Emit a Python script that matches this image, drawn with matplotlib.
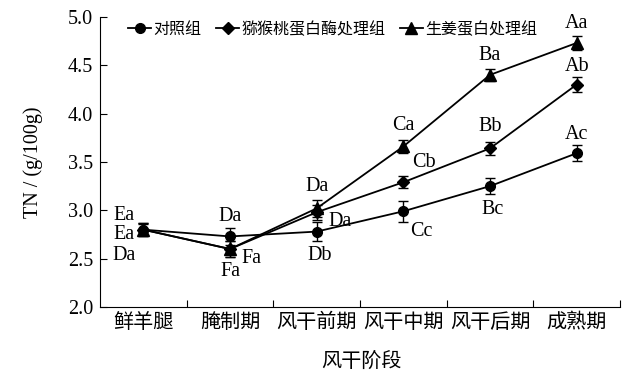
import numpy as np
import matplotlib.pyplot as plt

plt.rcParams['font.family'] = ['Liberation Serif', 'Noto Sans CJK SC']

stages = ['鲜羊腿', '腌制期', '风干前期', '风干中期', '风干后期', '成熟期']
groups = ['对照组', '猕猴桃蛋白酶处理组', '生姜蛋白处理组']

control = [2.80, 2.73, 2.78, 2.99, 3.25, 3.59]
kiwi = [2.80, 2.60, 2.98, 3.29, 3.64, 4.30]
ginger = [2.80, 2.60, 3.02, 3.66, 4.40, 4.73]

control_err = [0.07, 0.09, 0.10, 0.11, 0.08, 0.08]
kiwi_err = [0.06, 0.08, 0.08, 0.06, 0.07, 0.08]
ginger_err = [0.07, 0.08, 0.09, 0.07, 0.06, 0.07]

control_lbl = ['Da', 'Da', 'Db', 'Cc', 'Bc', 'Ac']
kiwi_lbl = ['Ea', 'Fa', 'Da', 'Cb', 'Bb', 'Ab']
ginger_lbl = ['Ea', 'Fa', 'Da', 'Ca', 'Ba', 'Aa']

# label offsets in pixels (dx, dy), one per stage
control_off = [(-19, -26), (0, 20), (3, -24), (18, -20), (3, -23), (0, 19)]
kiwi_off = [(-19, -5), (21, -9), (23, -9), (21, 20), (0, 22), (0, 18)]
ginger_off = [(-19, 14), (0, -22), (0, 22), (0, 21), (0, 19), (0, 19)]

fig = plt.figure(figsize=(6.25, 3.74), dpi=100)
ax = fig.add_axes([0.16, 0.179, 0.832, 0.776])

x = np.arange(len(stages)) + 0.5
series = [
    (control, control_err, control_lbl, control_off, 'o', 7),
    (kiwi, kiwi_err, kiwi_lbl, kiwi_off, 'D', 6.5),
    (ginger, ginger_err, ginger_lbl, ginger_off, '^', 9),
]
handles = []
for (y, e, lbl, off, m, ms), name in zip(series, groups):
    ax.errorbar(x, y, yerr=e, fmt='none', ecolor='black',
                capsize=3.5, elinewidth=1.0, capthick=1.0)
    h, = ax.plot(x, y, color='black', lw=1.3, marker=m, ms=ms, label=name)
    handles.append(h)
    for xi, yi, t, (dx, dy) in zip(x, y, lbl, off):
        ax.annotate(t, (xi, yi), xytext=(dx, dy), textcoords='offset pixels',
                    ha='center', va='center', fontsize=14.5)

ax.set_xlim(0, 6)
ax.set_ylim(2.0, 5.0)
ax.set_xticks(np.arange(1, 7))
ax.set_xticklabels([])
ax.set_xticks(x, minor=True)
ax.set_xticklabels(stages, minor=True, fontsize=14.5)
ax.tick_params(axis='x', which='minor', length=0, pad=5)
ax.tick_params(axis='x', which='major', direction='in', length=5)
yt = np.arange(2.0, 5.01, 0.5)
ax.set_yticks(yt)
ax.set_yticklabels([f'{v:.1f}' for v in yt])
ax.tick_params(axis='y', direction='in', length=5, labelsize=14.5, pad=5)
ax.spines['top'].set_visible(False)
ax.spines['right'].set_visible(False)

fig.text(33 / 625, 1 - 162 / 374, 'TN / (g/100g)', rotation=90,
         ha='center', va='center', fontsize=14.5)
fig.text(361 / 625, 1 - 362 / 374, '风干阶段', ha='center', va='center', fontsize=14.5)

fig.legend(handles=handles, loc='center left', bbox_to_anchor=(128 / 625, 1 - 30 / 374),
           ncol=3, frameon=False, fontsize=11.5, handlelength=1.45,
           columnspacing=0.9, handletextpad=0.15, borderpad=0, borderaxespad=0)

fig.savefig('out.png', dpi=100)
